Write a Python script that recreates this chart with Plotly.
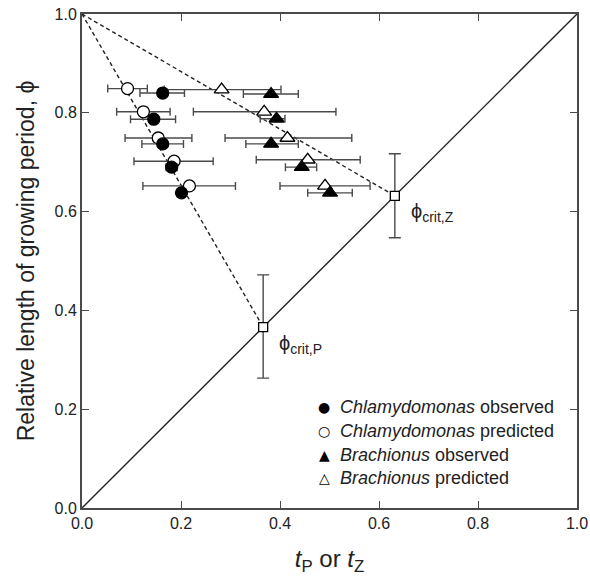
import plotly.graph_objects as go

# ---- data ----
chl_obs_x = [0.163, 0.145, 0.163, 0.181, 0.201]
chl_obs_y = [0.840, 0.787, 0.737, 0.690, 0.638]
chl_obs_lo = [0.117, 0.098, 0.121, 0.170, 0.201]
chl_obs_hi = [0.207, 0.189, 0.205, 0.192, 0.201]

chl_pred_x = [0.092, 0.124, 0.154, 0.186, 0.217]
chl_pred_y = [0.849, 0.802, 0.749, 0.702, 0.652]
chl_pred_lo = [0.052, 0.070, 0.087, 0.105, 0.123]
chl_pred_hi = [0.132, 0.178, 0.222, 0.265, 0.310]

bra_obs_x = [0.382, 0.393, 0.382, 0.444, 0.501]
bra_obs_y = [0.838, 0.788, 0.737, 0.690, 0.638]
bra_obs_lo = [0.326, 0.360, 0.331, 0.411, 0.456]
bra_obs_hi = [0.437, 0.410, 0.437, 0.474, 0.546]

bra_pred_x = [0.282, 0.368, 0.415, 0.456, 0.491]
bra_pred_y = [0.847, 0.802, 0.749, 0.705, 0.652]
bra_pred_lo = [0.166, 0.225, 0.289, 0.352, 0.400]
bra_pred_hi = [0.402, 0.513, 0.545, 0.562, 0.582]

crit_names = ["P", "Z"]
crit_val = [0.366, 0.632]
crit_lo = [0.263, 0.547]
crit_hi = [0.472, 0.717]

ticks = [0.0, 0.2, 0.4, 0.6, 0.8, 1.0]
tick_labels = ["0.0", "0.2", "0.4", "0.6", "0.8", "1.0"]

legend_glyphs = ["●", "○", "▲", "△"]
legend_labels = ["<i>Chlamydomonas</i> observed", "<i>Chlamydomonas</i> predicted",
                 "<i>Brachionus</i> observed", "<i>Brachionus</i> predicted"]

FONT = "Liberation Sans, Arial, sans-serif"
INK = "#222222"
AX = "#4a4a4a"

fig = go.Figure()

# 1:1 line
fig.add_trace(go.Scatter(x=[0, 1], y=[0, 1], mode="lines",
                         line=dict(color=INK, width=1.4), showlegend=False, hoverinfo="skip"))
# dashed lines from (0,1) to critical points
for v in crit_val:
    fig.add_trace(go.Scatter(x=[0, v], y=[1, v], mode="lines",
                             line=dict(color=INK, width=1.4, dash="4px,3px"),
                             showlegend=False, hoverinfo="skip"))


def errx(x, lo, hi):
    return dict(type="data", symmetric=False,
                array=[h - v for h, v in zip(hi, x)],
                arrayminus=[v - l for v, l in zip(x, lo)],
                color=AX, thickness=1.4, width=4)


def add_series(x, y, lo, hi, symbol, fill, name, size):
    fig.add_trace(go.Scatter(
        x=x, y=y, mode="markers", name=name, showlegend=False,
        marker=dict(symbol=symbol, size=size, color=fill,
                    line=dict(color="black", width=1.3)),
        error_x=errx(x, lo, hi)))


add_series(chl_pred_x, chl_pred_y, chl_pred_lo, chl_pred_hi, "circle", "white",
           legend_labels[1], 12)
add_series(bra_pred_x, bra_pred_y, bra_pred_lo, bra_pred_hi, "triangle-up", "white",
           legend_labels[3], 13)
add_series(chl_obs_x, chl_obs_y, chl_obs_lo, chl_obs_hi, "circle", "black",
           legend_labels[0], 12)
add_series(bra_obs_x, bra_obs_y, bra_obs_lo, bra_obs_hi, "triangle-up", "black",
           legend_labels[2], 13)

# critical points
fig.add_trace(go.Scatter(
    x=crit_val, y=crit_val, mode="markers", showlegend=False,
    marker=dict(symbol="square", size=9, color="white", line=dict(color="black", width=1.3)),
    error_y=dict(type="data", symmetric=False,
                 array=[h - v for h, v in zip(crit_hi, crit_val)],
                 arrayminus=[v - l for v, l in zip(crit_val, crit_lo)],
                 color=AX, thickness=1.4, width=6)))

# labels for critical points
for n, v in zip(crit_names, crit_val):
    fig.add_annotation(x=v, y=v, xref="x", yref="y", showarrow=False,
                       text="ϕ<sub>crit," + n + "</sub>", xanchor="left", yanchor="middle",
                       xshift=14, yshift=-17, font=dict(size=20, color=INK, family=FONT))

# legend (drawn as text, positioned in the lower right of the plot area)
leg_x_sym = 0.489
leg_x_txt = 0.517
leg_y0 = 0.204
leg_dy = 0.048
for i, (g, lab) in enumerate(zip(legend_glyphs, legend_labels)):
    yy = leg_y0 - i * leg_dy
    fig.add_annotation(x=leg_x_sym, y=yy, xref="paper", yref="paper", showarrow=False,
                       text=g, xanchor="center", yanchor="middle",
                       font=dict(size=14, color="black", family="DejaVu Sans"))
    fig.add_annotation(x=leg_x_txt, y=yy, xref="paper", yref="paper", showarrow=False,
                       text=lab, xanchor="left", yanchor="middle",
                       font=dict(size=18, color=INK, family=FONT))

axis_common = dict(range=[0, 1], tickvals=ticks, ticktext=tick_labels,
                   ticks="inside", ticklen=7, tickwidth=1.4, tickcolor=AX,
                   showline=True, linecolor=AX, linewidth=2, mirror="ticks",
                   showgrid=False, zeroline=False, automargin=False,
                   tickfont=dict(size=16, color=INK, family=FONT))

fig.update_xaxes(**axis_common,
                 title=dict(text="<i>t</i><sub>P</sub> or <i>t</i><sub>Z</sub>",
                            font=dict(size=24, color=INK, family=FONT), standoff=22))
fig.update_yaxes(**axis_common,
                 title=dict(text="Relative length of growing period, ϕ",
                            font=dict(size=23, color=INK, family=FONT), standoff=13))

fig.update_layout(
    width=590, height=576,
    margin=dict(l=82, r=13, t=14, b=68),
    paper_bgcolor="white", plot_bgcolor="white",
    font=dict(family=FONT, color=INK),
    showlegend=False,
)

fig.write_html("out.html")
